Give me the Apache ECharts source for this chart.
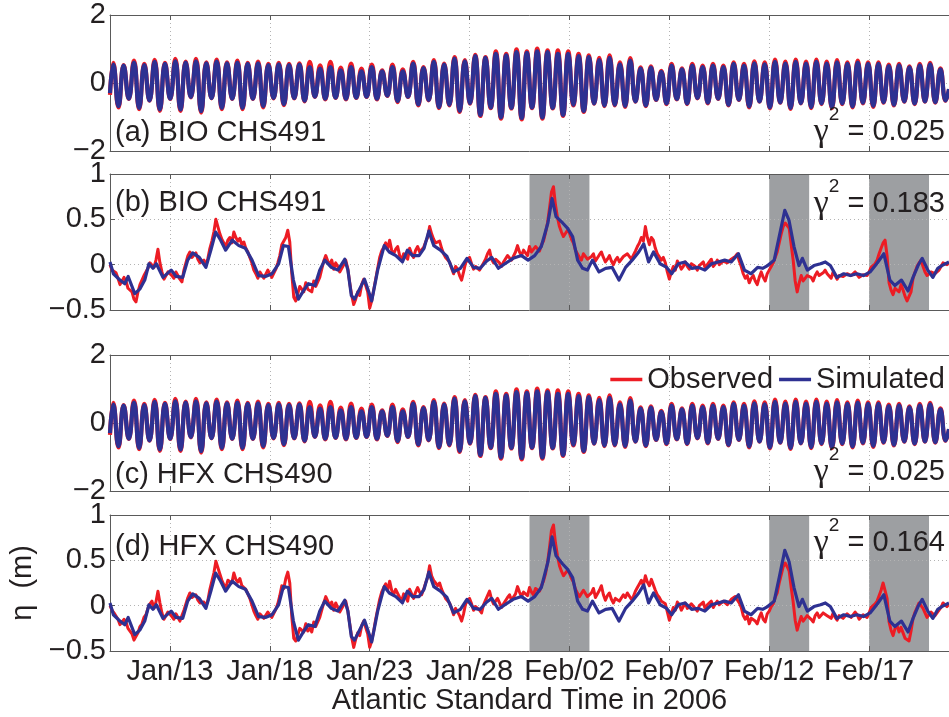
<!DOCTYPE html>
<html>
<head>
<meta charset="utf-8">
<script src="https://cdn.jsdelivr.net/npm/echarts@6.0.0/dist/echarts.min.js"></script>
<style>
  html, body { margin: 0; padding: 0; background: #fff; }
  #chart { width: 949px; height: 717px; }
</style>
</head>
<body>
<div id="chart"></div>
<script>
// Sea level (eta, m) at two Halifax gauges, 10 Jan - 21 Feb 2006 (AST).
// Time is expressed in days since 2006-01-10 00:00 AST.

const xTickDays = [3, 8, 13, 18, 23, 28, 33, 38];
const xTickLabels = ['Jan/13', 'Jan/18', 'Jan/23', 'Jan/28', 'Feb/02', 'Feb/07', 'Feb/12', 'Feb/17'];

const panelTags = ['(a) BIO CHS491', '(b) BIO CHS491', '(c) HFX CHS490', '(d) HFX CHS490'];
const gammaScores = ['0.025', '0.183', '0.025', '0.164'];

// storm-surge windows (days since Jan 10)
const surgeWindows = [[21, 24], [33, 35], [38, 41]];

// ---- tidal signal: successive high / low waters (m) ----
const tideFirstHigh = 0.165;   // day of first high water
const tideHalfPeriod = 0.2588; // days between high and following low (M2 / 2)
const tideEdgeObs = [-0.35, -0.20];
const tideEdgeSim = [-0.30, -0.18];

const tideHighObs = [
  0.59, 0.53, 0.66, 0.56, 0.68, 0.59, 0.71, 0.63, 0.71, 0.61, 0.69, 0.61, 0.66, 0.59, 0.63, 0.56, 0.59, 0.56, 0.58,
  0.62, 0.52, 0.62, 0.45, 0.57, 0.42, 0.54, 0.37, 0.54, 0.40, 0.62, 0.47, 0.67, 0.57, 0.76, 0.67, 0.83, 0.76, 0.93, 0.86,
  0.99, 0.93, 1.01, 0.96, 0.96, 0.93, 0.86, 0.81, 0.74, 0.81,
  0.61, 0.73, 0.46, 0.49, 0.36, 0.56, 0.43, 0.56, 0.51, 0.56, 0.51, 0.61, 0.56, 0.64, 0.61, 0.69, 0.63, 0.69, 0.63, 0.69,
  0.63, 0.67, 0.61, 0.66, 0.61, 0.61, 0.54, 0.56, 0.49, 0.56, 0.59, 0.43
];
const tideLowObs = [
  -0.72, -0.47, -0.77, -0.52, -0.82, -0.47, -0.82, -0.42, -0.87, -0.45, -0.77, -0.47, -0.77, -0.47, -0.72, -0.45, -0.65, -0.45, -0.54,
  -0.41, -0.48, -0.44, -0.48, -0.44, -0.41, -0.48, -0.38, -0.56, -0.41, -0.66, -0.51, -0.74, -0.66, -0.85, -0.61, -0.97, -0.74, -1.05, -0.75,
  -1.07, -0.74, -1.05, -0.75, -0.97, -0.66, -0.85, -0.61, -0.68, -0.66,
  -0.70, -0.55, -0.68, -0.50, -0.62, -0.48, -0.62, -0.45, -0.60, -0.47, -0.66, -0.50, -0.72, -0.55, -0.75, -0.58, -0.76, -0.60, -0.74, -0.62,
  -0.74, -0.62, -0.72, -0.60, -0.70, -0.58, -0.66, -0.55, -0.62, -0.55, -0.58, -0.52
];
const tideHighSim = [
  0.54, 0.51, 0.60, 0.53, 0.62, 0.56, 0.64, 0.60, 0.64, 0.58, 0.63, 0.58, 0.60, 0.56, 0.58, 0.53, 0.55, 0.53, 0.54,
  0.47, 0.42, 0.47, 0.37, 0.47, 0.34, 0.47, 0.34, 0.47, 0.34, 0.57, 0.44, 0.62, 0.54, 0.72, 0.64, 0.79, 0.74, 0.86, 0.81,
  0.91, 0.89, 0.93, 0.91, 0.86, 0.86, 0.79, 0.76, 0.67, 0.74,
  0.55, 0.66, 0.42, 0.45, 0.33, 0.51, 0.40, 0.51, 0.47, 0.51, 0.47, 0.56, 0.51, 0.58, 0.55, 0.62, 0.57, 0.62, 0.57, 0.62,
  0.57, 0.61, 0.56, 0.60, 0.56, 0.56, 0.50, 0.52, 0.46, 0.52, 0.55, 0.40
];
const tideLowSim = [
  -0.68, -0.46, -0.73, -0.51, -0.78, -0.46, -0.78, -0.41, -0.83, -0.44, -0.73, -0.46, -0.73, -0.46, -0.68, -0.44, -0.62, -0.44, -0.52,
  -0.40, -0.46, -0.43, -0.46, -0.43, -0.40, -0.46, -0.37, -0.53, -0.40, -0.63, -0.50, -0.71, -0.64, -0.82, -0.59, -0.94, -0.72, -1.01, -0.73,
  -1.03, -0.72, -1.01, -0.73, -0.94, -0.64, -0.82, -0.60, -0.66, -0.64,
  -0.67, -0.54, -0.66, -0.49, -0.60, -0.47, -0.60, -0.44, -0.58, -0.46, -0.64, -0.49, -0.69, -0.54, -0.72, -0.57, -0.73, -0.59, -0.71, -0.60,
  -0.71, -0.60, -0.69, -0.58, -0.67, -0.56, -0.64, -0.54, -0.60, -0.54, -0.56, -0.51
];

// ---- non-tidal residual: observed, sampled every 0.1 day from day 0 (one row per day) ----
const residStep = 0.1;
const residObsBIO = [
  0.00, -0.06, -0.08, -0.09, -0.15, -0.22, -0.20, -0.14, -0.18, -0.26,
  -0.24, -0.30, -0.38, -0.41, -0.30, -0.22, -0.20, -0.12, -0.10, -0.04,
  0.02, 0.04, -0.03, 0.05, 0.17, 0.02, -0.08, -0.16, -0.14, -0.08,
  -0.06, -0.12, -0.15, -0.08, -0.10, -0.16, -0.19, -0.06, 0.02, 0.10,
  0.14, 0.08, 0.10, 0.13, 0.06, 0.02, 0.01, 0.05, -0.01, 0.07,
  0.18, 0.26, 0.36, 0.50, 0.48, 0.34, 0.28, 0.24, 0.20, 0.27,
  0.30, 0.24, 0.36, 0.30, 0.26, 0.29, 0.22, 0.25, 0.18, 0.14,
  0.08, 0.02, -0.06, -0.10, -0.15, -0.08, -0.10, -0.15, -0.13, -0.06,
  -0.08, -0.14, -0.12, -0.05, 0.02, 0.10, 0.22, 0.20, 0.30, 0.38,
  0.25, -0.10, -0.36, -0.40, -0.32, -0.24, -0.26, -0.30, -0.20, -0.27,
  -0.25, -0.30, -0.18, -0.24, -0.22, -0.14, -0.05, 0.04, 0.10, 0.04,
  0.00, 0.05, -0.05, 0.02, -0.02, -0.08, -0.08, 0.00, 0.05, -0.04,
  -0.20, -0.34, -0.44, -0.38, -0.30, -0.34, -0.22, -0.16, -0.18, -0.30,
  -0.48, -0.40, -0.28, -0.16, -0.04, 0.08, 0.15, 0.19, 0.24, 0.18,
  0.27, 0.16, 0.12, 0.17, 0.20, 0.10, 0.05, 0.12, 0.10, 0.06,
  0.18, 0.12, 0.08, 0.16, 0.20, 0.14, 0.12, 0.19, 0.25, 0.30,
  0.42, 0.34, 0.28, 0.24, 0.22, 0.26, 0.18, 0.12, 0.08, 0.10,
  0.03, -0.04, -0.10, -0.02, -0.05, -0.12, -0.17, -0.08, 0.02, 0.00,
  0.08, 0.01, -0.05, -0.02, 0.00, -0.06, -0.08, 0.02, 0.06, 0.12,
  0.16, 0.06, 0.02, 0.06, 0.08, 0.02, -0.02, 0.03, 0.04, 0.10,
  0.12, 0.05, 0.07, 0.14, 0.21, 0.14, 0.10, 0.16, 0.15, 0.10,
  0.20, 0.14, 0.12, 0.20, 0.18, 0.15, 0.22, 0.26, 0.35, 0.46,
  0.62, 0.80, 0.86, 0.66, 0.52, 0.42, 0.36, 0.31, 0.30, 0.38,
  0.35, 0.28, 0.24, 0.16, 0.12, 0.08, 0.05, 0.12, 0.10, 0.06,
  0.04, 0.09, 0.12, 0.04, 0.06, 0.11, 0.14, 0.08, 0.03, 0.06,
  0.10, 0.04, 0.00, 0.05, 0.08, 0.03, 0.02, 0.09, 0.07, 0.12,
  0.12, 0.06, 0.08, 0.15, 0.20, 0.24, 0.30, 0.26, 0.42, 0.30,
  0.22, 0.30, 0.27, 0.18, 0.12, 0.10, 0.05, 0.08, 0.02, -0.08,
  -0.16, -0.08, -0.02, -0.06, 0.04, 0.00, -0.05, -0.02, 0.03, -0.02,
  -0.05, 0.01, 0.02, -0.02, -0.06, -0.01, 0.00, 0.03, -0.04, 0.00,
  0.03, 0.06, -0.02, 0.01, 0.05, 0.00, 0.02, 0.04, 0.06, 0.02,
  0.01, 0.06, 0.05, 0.09, 0.12, 0.04, -0.02, -0.10, -0.15, -0.12,
  -0.20, -0.15, -0.12, -0.18, -0.22, -0.14, -0.08, -0.14, -0.18, -0.10,
  -0.06, -0.02, 0.02, 0.08, 0.14, 0.24, 0.34, 0.42, 0.46, 0.44,
  0.40, 0.22, 0.05, -0.18, -0.30, -0.20, -0.12, -0.18, -0.16, -0.12,
  -0.10, -0.14, -0.18, -0.12, -0.08, -0.12, -0.14, -0.09, -0.06, -0.10,
  -0.12, -0.15, -0.08, -0.12, -0.16, -0.12, -0.10, -0.13, -0.14, -0.10,
  -0.08, -0.12, -0.14, -0.08, -0.10, -0.14, -0.15, -0.11, -0.09, -0.12,
  -0.08, -0.03, -0.04, 0.01, 0.05, 0.12, 0.18, 0.24, 0.27, 0.10,
  -0.20, -0.28, -0.33, -0.26, -0.24, -0.30, -0.22, -0.28, -0.35, -0.40,
  -0.42, -0.30, -0.15, -0.08, -0.02, 0.02, 0.05, -0.02, -0.08, -0.12,
  -0.14, -0.08, -0.06, -0.10, -0.12, -0.06, -0.02, 0.02, 0.04, 0.00,
  0.02
];
const residObsHFX = [
  0.00, -0.05, -0.08, -0.10, -0.15, -0.21, -0.20, -0.15, -0.18, -0.25,
  -0.24, -0.31, -0.38, -0.40, -0.30, -0.23, -0.20, -0.13, -0.10, -0.03,
  0.02, 0.05, -0.03, 0.04, 0.16, 0.03, -0.08, -0.15, -0.14, -0.07,
  -0.06, -0.12, -0.15, -0.09, -0.10, -0.17, -0.19, -0.05, 0.02, 0.09,
  0.14, 0.09, 0.10, 0.12, 0.06, 0.03, 0.01, 0.04, -0.01, 0.06,
  0.18, 0.27, 0.36, 0.49, 0.49, 0.35, 0.28, 0.23, 0.20, 0.28,
  0.30, 0.25, 0.36, 0.29, 0.26, 0.30, 0.22, 0.24, 0.18, 0.13,
  0.08, 0.01, -0.06, -0.11, -0.15, -0.09, -0.10, -0.14, -0.13, -0.07,
  -0.08, -0.13, -0.12, -0.04, 0.02, 0.11, 0.22, 0.19, 0.30, 0.37,
  0.25, -0.12, -0.36, -0.39, -0.32, -0.25, -0.26, -0.29, -0.20, -0.28,
  -0.25, -0.29, -0.18, -0.23, -0.22, -0.13, -0.05, 0.03, 0.10, 0.05,
  0.00, 0.04, -0.05, 0.03, -0.02, -0.07, -0.08, 0.01, 0.05, -0.05,
  -0.20, -0.35, -0.46, -0.37, -0.30, -0.33, -0.22, -0.17, -0.18, -0.31,
  -0.46, -0.39, -0.28, -0.15, -0.04, 0.07, 0.15, 0.20, 0.24, 0.17,
  0.27, 0.17, 0.12, 0.18, 0.20, 0.09, 0.05, 0.13, 0.10, 0.05,
  0.18, 0.13, 0.08, 0.15, 0.20, 0.15, 0.12, 0.18, 0.25, 0.31,
  0.44, 0.33, 0.28, 0.25, 0.22, 0.25, 0.18, 0.13, 0.08, 0.09,
  0.03, -0.03, -0.10, -0.03, -0.05, -0.11, -0.17, -0.09, 0.02, 0.01,
  0.08, 0.02, -0.05, -0.01, 0.00, -0.05, -0.08, 0.01, 0.06, 0.11,
  0.16, 0.07, 0.02, 0.05, 0.08, 0.03, -0.02, 0.02, 0.04, 0.09,
  0.12, 0.06, 0.07, 0.13, 0.21, 0.15, 0.10, 0.15, 0.15, 0.11,
  0.20, 0.15, 0.12, 0.19, 0.18, 0.16, 0.22, 0.27, 0.35, 0.47,
  0.64, 0.83, 0.89, 0.69, 0.55, 0.44, 0.38, 0.33, 0.32, 0.39,
  0.36, 0.30, 0.26, 0.18, 0.14, 0.10, 0.08, 0.17, 0.16, 0.10,
  0.08, 0.14, 0.19, 0.09, 0.10, 0.17, 0.22, 0.12, 0.06, 0.11,
  0.14, 0.07, 0.03, 0.08, 0.10, 0.05, 0.05, 0.12, 0.09, 0.14,
  0.12, 0.07, 0.10, 0.16, 0.20, 0.24, 0.28, 0.22, 0.33, 0.26,
  0.22, 0.29, 0.27, 0.17, 0.12, 0.09, 0.05, 0.07, 0.02, -0.07,
  -0.16, -0.09, -0.02, -0.05, 0.04, 0.01, -0.05, -0.01, 0.03, -0.03,
  -0.05, 0.02, 0.02, -0.03, -0.06, 0.00, 0.00, 0.04, -0.04, 0.01,
  0.03, 0.05, -0.02, 0.02, 0.05, 0.01, 0.02, 0.05, 0.06, 0.01,
  0.01, 0.07, 0.05, 0.10, 0.12, 0.03, -0.02, -0.11, -0.15, -0.11,
  -0.20, -0.14, -0.12, -0.17, -0.20, -0.13, -0.08, -0.15, -0.18, -0.09,
  -0.06, -0.01, 0.02, 0.09, 0.14, 0.25, 0.34, 0.43, 0.47, 0.43,
  0.38, 0.20, 0.04, -0.16, -0.27, -0.19, -0.12, -0.17, -0.15, -0.11,
  -0.10, -0.15, -0.18, -0.11, -0.08, -0.13, -0.14, -0.08, -0.06, -0.11,
  -0.12, -0.14, -0.08, -0.13, -0.16, -0.11, -0.10, -0.14, -0.14, -0.09,
  -0.08, -0.13, -0.14, -0.07, -0.10, -0.15, -0.15, -0.10, -0.09, -0.13,
  -0.08, -0.02, -0.04, 0.02, 0.05, 0.11, 0.17, 0.25, 0.27, 0.08,
  -0.18, -0.27, -0.33, -0.25, -0.22, -0.29, -0.24, -0.30, -0.36, -0.38,
  -0.39, -0.28, -0.14, -0.07, -0.02, 0.03, 0.05, -0.03, -0.08, -0.13,
  -0.14, -0.07, -0.06, -0.11, -0.12, -0.05, -0.02, 0.03, 0.04, -0.01,
  0.02
];

// ---- non-tidal residual: simulated, [day, eta] ----
const residSimBIO = [
  [0.00, 0.03], [0.17, -0.10], [0.50, -0.17], [0.74, -0.21], [0.91, -0.13], [1.24, -0.32], [1.49, -0.27], [1.74, -0.17],
  [1.95, 0.01], [2.15, -0.04], [2.32, 0.01], [2.65, -0.14], [3.06, -0.06], [3.31, -0.13], [3.64, -0.14], [3.89, 0.05],
  [4.14, 0.13], [4.47, 0.08], [4.80, -0.03], [5.05, 0.16], [5.29, 0.36], [5.54, 0.27], [5.79, 0.16], [6.12, 0.27],
  [6.45, 0.21], [6.78, 0.18], [7.11, 0.05], [7.44, -0.12], [7.78, -0.13], [8.11, -0.10], [8.44, 0.01], [8.68, 0.21],
  [8.93, 0.20], [9.18, -0.17], [9.43, -0.38], [9.68, -0.29], [9.93, -0.21], [10.26, -0.23], [10.50, -0.06], [10.75, 0.05],
  [11.08, -0.03], [11.41, -0.06], [11.75, 0.06], [11.91, -0.06], [12.08, -0.34], [12.24, -0.38], [12.49, -0.27], [12.74, -0.16],
  [12.94, -0.29], [13.10, -0.40], [13.40, -0.06], [13.73, 0.21], [13.98, 0.14], [14.31, 0.10], [14.64, 0.03], [14.89, 0.16],
  [15.14, 0.10], [15.47, 0.10], [15.72, 0.18], [15.96, 0.37], [16.21, 0.21], [16.54, 0.16], [16.87, 0.09], [17.20, -0.08],
  [17.54, -0.04], [17.87, 0.07], [18.20, -0.03], [18.53, -0.04], [18.86, 0.04], [19.11, 0.08], [19.44, -0.04], [19.77, 0.01],
  [20.18, 0.07], [20.60, 0.10], [20.93, 0.05], [21.26, 0.10], [21.59, 0.20], [21.92, 0.46], [22.13, 0.73], [22.33, 0.53],
  [22.66, 0.46], [22.91, 0.40], [23.16, 0.31], [23.41, 0.05], [23.66, -0.04], [23.90, -0.06], [24.15, 0.05], [24.48, -0.08],
  [24.81, -0.04], [25.14, -0.03], [25.48, -0.17], [25.81, -0.03], [26.14, 0.05], [26.47, 0.14], [26.72, 0.23], [26.96, 0.03],
  [27.21, 0.14], [27.54, 0.01], [27.87, -0.03], [28.12, -0.10], [28.45, 0.01], [28.78, 0.03], [29.12, -0.04], [29.45, -0.03],
  [29.78, -0.06], [30.11, 0.01], [30.44, 0.03], [30.77, 0.05], [31.10, 0.03], [31.46, 0.12], [31.76, -0.06], [32.09, -0.10],
  [32.42, -0.03], [32.67, -0.04], [32.92, -0.01], [33.25, 0.05], [33.50, 0.31], [33.78, 0.60], [33.99, 0.49], [34.24, 0.20],
  [34.49, -0.01], [34.66, 0.07], [34.91, -0.06], [35.24, -0.01], [35.57, 0.01], [35.81, 0.03], [36.06, -0.01], [36.39, -0.14],
  [36.73, -0.10], [37.06, -0.12], [37.39, -0.10], [37.72, -0.12], [38.05, -0.08], [38.38, 0.01], [38.74, 0.12], [39.04, -0.17],
  [39.29, -0.23], [39.62, -0.17], [39.95, -0.29], [40.20, -0.14], [40.45, -0.01], [40.66, 0.07], [40.94, -0.06], [41.19, -0.14],
  [41.44, -0.04], [41.64, -0.01], [42.00, 0.03]
];
const residSimHFX = [
  [0.00, 0.03], [0.17, -0.10], [0.50, -0.17], [0.74, -0.21], [0.91, -0.13], [1.24, -0.32], [1.49, -0.27], [1.74, -0.17],
  [1.95, 0.01], [2.15, -0.04], [2.32, 0.01], [2.65, -0.14], [3.06, -0.06], [3.31, -0.13], [3.64, -0.14], [3.89, 0.05],
  [4.14, 0.13], [4.47, 0.08], [4.80, -0.03], [5.05, 0.16], [5.29, 0.36], [5.54, 0.27], [5.79, 0.16], [6.12, 0.27],
  [6.45, 0.21], [6.78, 0.18], [7.11, 0.05], [7.44, -0.12], [7.78, -0.13], [8.11, -0.10], [8.44, 0.01], [8.68, 0.21],
  [8.93, 0.20], [9.18, -0.17], [9.43, -0.38], [9.68, -0.29], [9.93, -0.21], [10.26, -0.23], [10.50, -0.06], [10.75, 0.05],
  [11.08, -0.03], [11.41, -0.06], [11.75, 0.06], [11.91, -0.06], [12.08, -0.34], [12.24, -0.38], [12.49, -0.27], [12.74, -0.16],
  [12.94, -0.29], [13.10, -0.40], [13.40, -0.06], [13.73, 0.21], [13.98, 0.14], [14.31, 0.10], [14.64, 0.03], [14.89, 0.16],
  [15.14, 0.10], [15.47, 0.10], [15.72, 0.18], [15.96, 0.37], [16.21, 0.21], [16.54, 0.16], [16.87, 0.09], [17.20, -0.08],
  [17.54, -0.04], [17.87, 0.07], [18.20, -0.03], [18.53, -0.04], [18.86, 0.04], [19.11, 0.08], [19.44, -0.04], [19.77, 0.01],
  [20.18, 0.07], [20.60, 0.10], [20.93, 0.05], [21.26, 0.10], [21.59, 0.20], [21.92, 0.48], [22.13, 0.76], [22.33, 0.55],
  [22.66, 0.46], [22.91, 0.40], [23.16, 0.31], [23.41, 0.05], [23.66, -0.04], [23.90, -0.06], [24.15, 0.05], [24.48, -0.08],
  [24.81, -0.04], [25.14, -0.03], [25.48, -0.17], [25.81, -0.03], [26.14, 0.05], [26.47, 0.14], [26.72, 0.23], [26.96, 0.03],
  [27.21, 0.14], [27.54, 0.01], [27.87, -0.03], [28.12, -0.10], [28.45, 0.01], [28.78, 0.03], [29.12, -0.04], [29.45, -0.03],
  [29.78, -0.06], [30.11, 0.01], [30.44, 0.03], [30.77, 0.05], [31.10, 0.03], [31.46, 0.12], [31.76, -0.06], [32.09, -0.10],
  [32.42, -0.03], [32.67, -0.04], [32.92, -0.01], [33.25, 0.05], [33.50, 0.31], [33.78, 0.61], [33.99, 0.49], [34.24, 0.20],
  [34.49, -0.01], [34.66, 0.07], [34.91, -0.06], [35.24, -0.01], [35.57, 0.01], [35.81, 0.03], [36.06, -0.01], [36.39, -0.14],
  [36.73, -0.10], [37.06, -0.12], [37.39, -0.10], [37.72, -0.12], [38.05, -0.08], [38.38, 0.01], [38.74, 0.12], [39.04, -0.17],
  [39.29, -0.23], [39.62, -0.17], [39.95, -0.29], [40.20, -0.14], [40.45, -0.01], [40.66, 0.07], [40.94, -0.06], [41.19, -0.14],
  [41.44, -0.04], [41.64, -0.01], [42.00, 0.03]
];

// ---------------------------------------------------------------------------
const FONT = 'Liberation Sans, Arial, Helvetica, sans-serif';
const FS = 29;
const TEXT = '#231f20';
const AXIS = '#5a5a5a';
const RED = '#ed1c24';
const BLUE = '#2e3192';
const SHADE = '#9d9fa2';

// high/low waters joined by a smoothed curve
function tideCurve(edge, highs, lows) {
  const pts = [[0, edge[0]]];
  highs.forEach((h, k) => {
    const t = tideFirstHigh + 2 * k * tideHalfPeriod;
    pts.push([t, h]);
    pts.push([t + tideHalfPeriod, lows[k]]);
  });
  pts.push([42, edge[1]]);
  return pts;
}
function sampled(values) {
  return values.map((v, i) => [+(i * residStep).toFixed(2), v]);
}

const gridTops = [15, 174, 355, 515];
const yRanges = [[-2, 2, 2], [-0.5, 1, 0.5], [-2, 2, 2], [-0.5, 1, 0.5]];

const grids = gridTops.map(t => ({ left: 110, width: 846, top: t, height: 136, containLabel: false }));

const minus = v => String(v).replace('-', '\u2212');
const dayLabel = v => { const i = xTickDays.indexOf(v); return i < 0 ? '' : xTickLabels[i]; };
const dotted = { type: [1, 3], color: '#b3b3b3', width: 1 };

const xAxes = [];
gridTops.forEach((_, i) => {
  xAxes.push({
    gridIndex: i, type: 'value', min: 0, max: 42, position: 'bottom', z: 2,
    axisLine: { show: true, onZero: false, lineStyle: { color: AXIS, width: 1 } },
    axisTick: { show: true, inside: true, length: 5, customValues: xTickDays, lineStyle: { color: AXIS } },
    axisLabel: {
      show: i === 3, customValues: xTickDays, formatter: dayLabel,
      fontSize: FS, fontFamily: FONT, color: TEXT, margin: 6
    },
    splitLine: { show: true, lineStyle: dotted },
    name: i === 3 ? 'Atlantic Standard Time in 2006' : '',
    nameLocation: 'middle', nameGap: 34,
    nameTextStyle: { fontSize: FS, fontFamily: FONT, color: TEXT }
  });
});
gridTops.forEach((_, i) => {
  xAxes.push({
    gridIndex: i, type: 'value', min: 0, max: 42, position: 'top', z: 2,
    axisLine: { show: true, onZero: false, lineStyle: { color: AXIS, width: 1 } },
    axisTick: { show: true, inside: true, length: 5, customValues: xTickDays, lineStyle: { color: AXIS } },
    axisLabel: { show: false },
    splitLine: { show: false }
  });
});

const yAxes = yRanges.map((r, i) => ({
  gridIndex: i, type: 'value', min: r[0], max: r[1], interval: r[2], z: 2,
  axisLine: { show: true, onZero: false, lineStyle: { color: AXIS, width: 1 } },
  axisTick: { show: true, inside: true, length: 5, lineStyle: { color: AXIS } },
  axisLabel: { formatter: minus, fontSize: FS, fontFamily: FONT, color: TEXT, margin: 4 },
  splitLine: { show: true, lineStyle: dotted },
  name: i === 3 ? '\u03b7  (m)' : '',
  nameLocation: 'middle', nameRotate: 90, nameGap: 66,
  nameTextStyle: { fontSize: FS, fontFamily: FONT, color: TEXT }
}));

function lineSeries(name, idx, data, color, smooth, width, z) {
  return {
    name, type: 'line', xAxisIndex: idx, yAxisIndex: idx, data,
    smooth, showSymbol: false, symbol: 'none', z,
    lineStyle: { color, width, join: 'round' }, itemStyle: { color },
    animation: false, silent: true
  };
}
function shadeSeries(idx) {
  return {
    name: 'surge', type: 'line', xAxisIndex: idx, yAxisIndex: idx, data: [], z: 1, silent: true,
    markArea: {
      silent: true, itemStyle: { color: SHADE, opacity: 1 },
      data: surgeWindows.map(([a, b]) => [{ xAxis: a }, { xAxis: b }])
    }
  };
}

const tideObs = tideCurve(tideEdgeObs, tideHighObs, tideLowObs);
const tideSim = tideCurve(tideEdgeSim, tideHighSim, tideLowSim);

const series = [
  lineSeries('Observed', 0, tideObs, RED, 0.5, 4.2, 3),
  lineSeries('Simulated', 0, tideSim, BLUE, 0.5, 4.2, 4),
  shadeSeries(1),
  lineSeries('Observed', 1, sampled(residObsBIO), RED, false, 3, 3),
  lineSeries('Simulated', 1, residSimBIO, BLUE, false, 3.2, 4),
  // the two gauges share the same tidal extremes
  lineSeries('Observed', 2, tideObs, RED, 0.5, 4.2, 3),
  lineSeries('Simulated', 2, tideSim, BLUE, 0.5, 4.2, 4),
  shadeSeries(3),
  lineSeries('Observed', 3, sampled(residObsHFX), RED, false, 3, 3),
  lineSeries('Simulated', 3, residSimHFX, BLUE, false, 3.2, 4)
];

const tagY = [133, 203, 475, 547];
const gammaY = [132, 204, 472, 543];
const graphic = [];
panelTags.forEach((t, i) => {
  graphic.push({
    type: 'text', x: 115, y: tagY[i], z: 10, silent: true,
    style: { text: t, fontSize: FS, fontFamily: FONT, fill: TEXT, align: 'left', verticalAlign: 'middle' }
  });
  graphic.push({
    type: 'text', x: 945, y: gammaY[i], z: 10, silent: true,
    style: {
      text: '{g|\u03b3}{s|2}{n| = ' + gammaScores[i] + '}',
      align: 'right', verticalAlign: 'middle', fill: TEXT, fontFamily: FONT, fontSize: FS,
      rich: {
        g: { fontSize: 34, fontFamily: 'Liberation Serif', fill: TEXT, lineHeight: 54 },
        s: { fontSize: 19, fontFamily: FONT, fill: TEXT, verticalAlign: 'top', lineHeight: 26 },
        n: { fontSize: FS, fontFamily: FONT, fill: TEXT, lineHeight: 54 }
      }
    }
  });
});

const chart = echarts.init(document.getElementById('chart'), null, { renderer: 'canvas' });
chart.setOption({
  animation: false,
  backgroundColor: '#ffffff',
  grid: grids,
  xAxis: xAxes,
  yAxis: yAxes,
  legend: {
    data: ['Observed', 'Simulated'], right: 4, top: 365, padding: 0,
    icon: 'rect', itemWidth: 32, itemHeight: 3.5, itemGap: 6,
    textStyle: { fontSize: FS, fontFamily: FONT, color: TEXT },
    selectedMode: false
  },
  series,
  graphic
});
</script>
</body>
</html>
